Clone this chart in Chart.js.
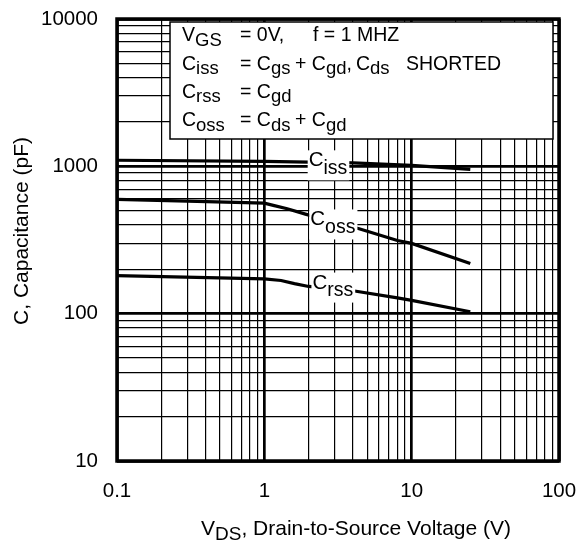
<!DOCTYPE html>
<html>
<head>
<meta charset="utf-8">
<script src="https://cdn.jsdelivr.net/npm/chart.js@4/dist/chart.umd.min.js"></script>
<style>
  body { margin: 0; background: #fff; }
  #wrap { width: 578px; height: 542px; }
</style>
</head>
<body>
<div id="wrap"><canvas id="chart" width="578" height="542"></canvas></div>
<script>
// values (VDS in V, C in pF)
const cissVds = [0.1, 1, 2, 4, 10, 25];
const cissPf  = [1100, 1080, 1068, 1055, 1015, 955];

const cossVds = [0.1, 0.3, 1, 1.15, 1.43, 1.9, 4.4, 8, 10, 25];
const cossPf  = [597, 580, 562, 543, 515, 474, 377, 314, 300, 219];

const crssVds = [0.1, 1, 1.3, 1.6, 2, 4, 8, 10, 25];
const crssPf  = [181, 172, 168, 160, 153, 143, 128, 123, 103];

const xTickLabels = ['0.1', '1', '10', '100'];
const yTickLabels = ['10', '100', '1000', '10000'];

const FONT = "'Liberation Sans', Arial, sans-serif";

function pts(xs, ys) {
  return xs.map((x, i) => ({ x: x, y: ys[i] }));
}

// minor grid ticks: 1..9 per decade between the labelled decades
function gridValues(labels) {
  const dec = labels.map(Number);
  const out = [];
  for (let d = 0; d < dec.length - 1; d++) {
    for (let m = 1; m < 10; m++) out.push(+(dec[d] * m).toPrecision(6));
  }
  out.push(dec[dec.length - 1]);
  return out;
}

function isDecade(v) {
  const l = Math.log10(v);
  return Math.abs(l - Math.round(l)) < 1e-6;
}

function drawRich(ctx, segs, x0, base, size, subSize, subDy) {
  let x = x0;
  segs.forEach(s => {
    if (s.x !== undefined) x = s.x;
    ctx.font = (s.s ? subSize : size) + 'px ' + FONT;
    ctx.fillText(s.t, x, base + (s.s ? subDy : 0));
    x += ctx.measureText(s.t).width;
  });
  return x;
}

const curveLabels = [
  { main: 'C', sub: 'iss', x: 2.0, y: 1000 },
  { main: 'C', sub: 'oss', x: 2.05, y: 397 },
  { main: 'C', sub: 'rss', x: 2.12, y: 148 }
];

const legendLines = [
  [{ t: 'V' }, { t: 'GS', s: 1 }, { t: '= 0V,', x: 240 }, { t: 'f = 1 MHZ', x: 313 }],
  [{ t: 'C' }, { t: 'iss', s: 1 }, { t: '= C', x: 240 }, { t: 'gs', s: 1 }, { t: '+ C', x: 295 }, { t: 'gd', s: 1 }, { t: ',' }, { t: 'C', x: 356 }, { t: 'ds', s: 1 }, { t: 'SHORTED', x: 406 }],
  [{ t: 'C' }, { t: 'rss', s: 1 }, { t: '= C', x: 240 }, { t: 'gd', s: 1 }],
  [{ t: 'C' }, { t: 'oss', s: 1 }, { t: '= C', x: 240 }, { t: 'ds', s: 1 }, { t: '+ C', x: 295 }, { t: 'gd', s: 1 }]
];
const legendBase = [41, 69.5, 97.5, 126];

const overlay = {
  id: 'overlay',
  afterDatasetsDraw(chart) {
    const ctx = chart.ctx;
    const xs = chart.scales.x, ys = chart.scales.y;
    const a = chart.chartArea;
    ctx.save();
    ctx.textAlign = 'left';
    ctx.textBaseline = 'alphabetic';
    ctx.fillStyle = '#000';

    // curve labels on white boxes
    curveLabels.forEach(l => {
      const px = xs.getPixelForValue(l.x);
      const py = ys.getPixelForValue(l.y);
      ctx.font = '20.5px ' + FONT;
      const w1 = ctx.measureText(l.main).width;
      ctx.font = '19.5px ' + FONT;
      const w2 = ctx.measureText(l.sub).width;
      ctx.fillStyle = '#fff';
      ctx.fillRect(px - 1, py - 16, w1 + w2 + 3, 30);
      ctx.fillStyle = '#000';
      drawRich(ctx, [{ t: l.main }, { t: l.sub, s: 1 }], px, py, 20.5, 19.5, 7.5);
    });

    // condition box
    ctx.fillStyle = '#fff';
    ctx.fillRect(170, 22, 383, 117);
    ctx.strokeStyle = '#000';
    ctx.lineWidth = 1.5;
    ctx.strokeRect(170, 22, 383, 117);
    ctx.fillStyle = '#000';
    legendLines.forEach((segs, i) => {
      drawRich(ctx, segs, 182, legendBase[i], 19.5, 18.5, 4.5);
    });

    // heavy frame
    ctx.lineWidth = 3.5;
    ctx.strokeRect(a.left, a.top, a.right - a.left, a.bottom - a.top);

    // axis titles
    ctx.font = '21px ' + FONT;
    ctx.save();
    ctx.translate(22, 231);
    ctx.rotate(-Math.PI / 2);
    ctx.textAlign = 'center';
    ctx.textBaseline = 'middle';
    ctx.fillText('C, Capacitance (pF)', 0, 0);
    ctx.restore();

    const xt = [{ t: 'V' }, { t: 'DS', s: 1 }, { t: ', Drain-to-Source Voltage (V)' }];
    drawRich(ctx, xt, 201, 535, 21, 19, 5);
    ctx.restore();
  }
};

const lineStyle = { borderColor: '#000', borderWidth: 3.2, pointRadius: 0, tension: 0, fill: false };

new Chart(document.getElementById('chart'), {
  type: 'line',
  data: {
    datasets: [
      Object.assign({ label: 'Ciss', data: pts(cissVds, cissPf) }, lineStyle),
      Object.assign({ label: 'Coss', data: pts(cossVds, cossPf) }, lineStyle),
      Object.assign({ label: 'Crss', data: pts(crssVds, crssPf) }, lineStyle)
    ]
  },
  options: {
    responsive: false,
    animation: false,
    layout: { padding: { top: 19, right: 19, left: 0, bottom: 0 } },
    plugins: { legend: { display: false }, tooltip: { enabled: false }, title: { display: false } },
    scales: {
      x: {
        type: 'logarithmic',
        min: 0.1, max: 100,
        afterBuildTicks: s => { s.ticks = gridValues(xTickLabels).map(v => ({ value: v })); },
        afterFit: s => { s.height = 81; s.paddingLeft = 0; s.paddingRight = 0; },
        ticks: {
          autoSkip: false, maxRotation: 0, color: '#000', padding: 18,
          font: { family: FONT, size: 20.5 },
          callback: v => isDecade(v) ? xTickLabels.find(t => Math.abs(Number(t) - v) < 1e-9) : ''
        },
        grid: {
          color: '#000', drawTicks: false,
          lineWidth: c => (c.tick && isDecade(c.tick.value)) ? 2.7 : 1.2
        },
        border: { display: false }
      },
      y: {
        type: 'logarithmic',
        min: 10, max: 10000,
        afterBuildTicks: s => { s.ticks = gridValues(yTickLabels).map(v => ({ value: v })); },
        afterFit: s => { s.width = 117; s.paddingTop = 0; s.paddingBottom = 0; },
        ticks: {
          autoSkip: false, color: '#000', padding: 19,
          font: { family: FONT, size: 20.5 },
          callback: v => isDecade(v) ? yTickLabels.find(t => Math.abs(Number(t) - v) < 1e-9) : ''
        },
        grid: {
          color: '#000', drawTicks: false,
          lineWidth: c => (c.tick && isDecade(c.tick.value)) ? 2.7 : 1.2
        },
        border: { display: false }
      }
    }
  },
  plugins: [overlay]
});
</script>
</body>
</html>
